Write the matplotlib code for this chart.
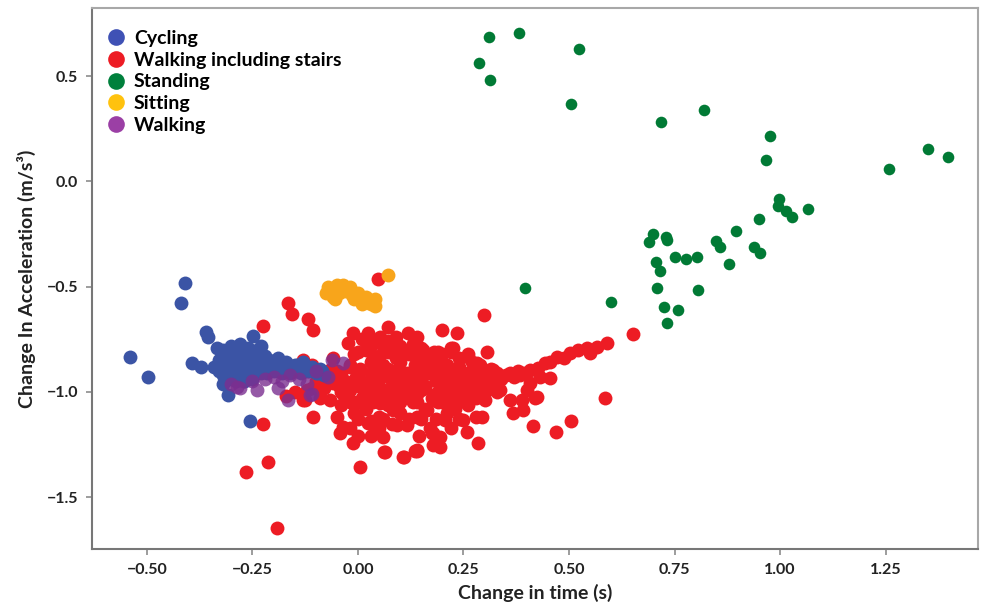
import matplotlib
matplotlib.use("Agg")
import matplotlib.pyplot as plt
from matplotlib.lines import Line2D

plt.rcParams['font.family'] = ['Lato', 'DejaVu Sans']
plt.rcParams['font.weight'] = 'bold'

categories = ["Cycling", "Walking including stairs", "Standing", "Sitting", "Walking"]

cycling_x = [-0.540, -0.498, -0.410, -0.419, -0.359, -0.355, -0.248, -0.335, -0.394, -0.373, -0.307, -0.256,
             -0.33, -0.33, -0.32, -0.31, -0.31, -0.30, -0.30, -0.29, -0.29, -0.28, -0.28, -0.27, -0.27,
             -0.26, -0.26, -0.25, -0.25, -0.24, -0.24, -0.23, -0.22, -0.22, -0.21, -0.20, -0.19, -0.18,
             -0.17, -0.16, -0.15, -0.14, -0.13, -0.12, -0.11, -0.10, -0.09, -0.08, -0.34, -0.32, -0.27, -0.23,
             -0.32, -0.315, -0.305, -0.295, -0.285, -0.28, -0.275, -0.265, -0.26, -0.255, -0.245, -0.235,
             -0.235, -0.225, -0.215, -0.205, -0.195, -0.185, -0.175, -0.165, -0.155, -0.145, -0.135,
             -0.125, -0.105, -0.095, -0.085,
             -0.31, -0.30, -0.29, -0.27, -0.265, -0.25, -0.245, -0.23, -0.21, -0.19, -0.17, -0.15,
             -0.13, -0.115, -0.32, -0.30, -0.28, -0.26,
             -0.29, -0.25, -0.27, -0.215, -0.18]
cycling_y = [-0.834, -0.929, -0.482, -0.577, -0.714, -0.740, -0.734, -0.792, -0.864, -0.883, -1.014, -1.136,
             -0.85, -0.90, -0.80, -0.87, -0.93, -0.78, -0.84, -0.90, -0.95, -0.77, -0.82, -0.87, -0.92,
             -0.79, -0.84, -0.89, -0.94, -0.80, -0.86, -0.91, -0.83, -0.88, -0.85, -0.90, -0.84, -0.88,
             -0.86, -0.91, -0.87, -0.89, -0.86, -0.90, -0.88, -0.91, -0.89, -0.92, -0.88, -0.96, -0.95, -0.78,
             -0.84, -0.89, -0.81, -0.86, -0.80, -0.90, -0.85, -0.89, -0.81, -0.86, -0.91, -0.83,
             -0.88, -0.86, -0.89, -0.86, -0.88, -0.86, -0.89, -0.87, -0.89, -0.87, -0.91,
             -0.88, -0.89, -0.91, -0.90,
             -0.82, -0.88, -0.83, -0.79, -0.84, -0.82, -0.87, -0.85, -0.87, -0.86, -0.88, -0.90,
             -0.88, -0.90, -0.92, -0.94, -0.93, -0.92,
             -0.92, -0.91, -0.95, -0.91, -0.91]

walk_stairs_x = [-0.165, -0.157, -0.118, -0.107, -0.224, 0.048, -0.106, 0.005, 0.064, 0.107, 0.135,
                 -0.224, -0.213, -0.265, -0.191, 0.062, 0.108, 0.139, 0.178, 0.194,
                 0.299, 0.198, 0.234, 0.226, 0.305, 0.285, 0.139, 0.175, 0.194, 0.178,
                 0.652, 0.586, 0.415, 0.469, 0.505, 0.589, 0.566, 0.542, 0.550, 0.522, 0.502, 0.487,
                 0.471, 0.455, 0.443, 0.427, 0.408, 0.392, 0.455, 0.431, 0.408, 0.400, 0.419, 0.388,
                 0.392, 0.423,
                 -0.011, 0.024, 0.072, 0.052, 0.119, -0.023, -0.050, -0.043, -0.011, -0.035, 0.040,
                 0.060, 0.092, 0.115, 0.024, -0.019, 0.052, 0.084, -0.126, -0.090, -0.066, -0.059,
                 0.155, 0.186, 0.261, 0.281, 0.321, 0.360, 0.384, 0.336, 0.360, 0.368, 0.293, 0.258,
                 0.250, 0.206, 0.218, 0.163, 0.139, 0.178, 0.265, 0.305,
                 -0.05, -0.03, -0.04, -0.02, 0.00, 0.01, 0.02, 0.00, 0.03, 0.04, 0.05, 0.06, 0.07,
                 0.08, 0.09, 0.10, 0.11, 0.12, 0.13, 0.14, 0.15, 0.16, 0.17, 0.18, 0.19, 0.20, 0.21,
                 0.22, 0.23, 0.24, 0.25, 0.26, 0.27, 0.28, 0.29, 0.30, 0.31, 0.32, 0.34, 0.35, 0.37,
                 0.38,
                 -0.06, -0.01, 0.02, 0.05, 0.08, 0.10, 0.12, 0.04, 0.09, 0.13, 0.16, 0.20, 0.24, 0.27,
                 0.01, 0.06,
                 -0.04, -0.01, 0.02, 0.05, 0.07, 0.10, 0.13, 0.16, 0.19, 0.23, 0.26, 0.30, 0.33, 0.03,
                 0.08, 0.12, 0.21, 0.28,
                 -0.10, -0.08, -0.12, -0.07, -0.09, -0.13, -0.17, -0.15, -0.13, -0.11, -0.13, -0.11,
                 -0.02, 0.06, 0.135, 0.21, 0.29,
                 -0.04, 0.03, 0.07, 0.115, 0.165, 0.245, 0.275, 0.33,
                 -0.01, 0.025, 0.095, 0.135, 0.185, 0.225, 0.30, 0.33,
                 -0.02, 0.035, 0.07, 0.105, 0.15, 0.205, 0.24, 0.29,
                 0.01, 0.045, 0.085, 0.12, 0.175, 0.215, 0.25, 0.28,
                 0.035, 0.09, 0.145, 0.18,
                 -0.02, 0.05, 0.17, 0.22, 0.00, 0.03, 0.145, 0.00, 0.06, 0.15, 0.185, 0.24,
                 -0.065, 0.005, 0.045, 0.095, 0.155, 0.195, 0.235, 0.315,
                 -0.055, -0.005, 0.055, 0.09, 0.14, 0.20, 0.26, 0.295,
                 -0.045, 0.005, 0.045, 0.11, 0.16, 0.21, 0.255, 0.315,
                 -0.035, 0.02, 0.055, 0.095, 0.14, 0.185, 0.225, 0.265,
                 -0.02, 0.035, 0.10, 0.14, 0.20, 0.24,
                 0.00, 0.07, 0.11, 0.15, 0.19, 0.22,
                 0.03, 0.07, 0.11, 0.15, 0.18, 0.22, 0.26, 0.14]
walk_stairs_y = [-0.579, -0.630, -0.655, -0.705, -0.686, -0.462, -1.117, -1.355, -1.284, -1.307, -1.279,
                 -1.152, -1.331, -1.379, -1.645, -1.287, -1.310, -1.279, -1.196, -1.260,
                 -0.634, -0.705, -0.721, -0.792, -0.808, -1.244, -1.276, -1.196, -1.212, -1.252,
                 -0.726, -1.029, -1.160, -1.191, -1.138, -0.769, -0.785, -0.792, -0.816, -0.800, -0.816, -0.840,
                 -0.832, -0.856, -0.864, -0.887, -0.896, -0.911, -0.935, -0.927, -0.959, -0.990, -1.030, -1.038,
                 -1.086, -1.022,
                 -0.721, -0.721, -0.690, -0.737, -0.721, -0.769, -1.117, -1.196, -1.244, -1.165, -1.181,
                 -1.212, -1.157, -1.157, -1.149, -1.038, -1.054, -1.086, -1.038, -0.990, -1.038, -0.959,
                 -0.800, -0.848, -0.832, -0.864, -0.896, -0.911, -0.919, -0.990, -1.038, -1.101, -1.117, -1.188,
                 -1.133, -1.133, -1.070, -1.086, -1.117, -1.038, -1.022, -0.990,
                 -0.90, -0.95, -1.00, -0.88, -0.92, -0.98, -1.02, -1.05, -0.86, -0.93, -0.97, -1.01, -0.89,
                 -0.95, -0.99, -0.86, -0.93, -1.00, -0.96, -0.90, -0.94, -0.98, -0.87, -0.92, -1.00, -0.95, -0.90,
                 -0.97, -0.93, -0.88, -0.96, -0.91, -0.99, -0.94, -0.90, -0.97, -0.93, -0.92, -0.94, -0.92, -0.93,
                 -0.90,
                 -0.84, -0.82, -0.80, -0.83, -0.80, -0.78, -0.82, -0.76, -0.74, -0.77, -0.83, -0.82, -0.84, -0.86,
                 -0.75, -0.78,
                 -1.06, -1.10, -1.08, -1.12, -1.06, -1.10, -1.05, -1.08, -1.05, -1.08, -1.06, -1.04, -1.00, -1.14,
                 -1.15, -1.13, -1.10, -1.12,
                 -0.95, -0.98, -0.99, -0.92, -1.03, -1.04, -1.02, -1.00, -1.02, -0.98, -0.85, -0.87,
                 -0.87, -0.87, -0.87, -0.87, -0.87,
                 -0.91, -0.91, -0.91, -0.91, -0.91, -0.91, -0.91, -0.91,
                 -0.95, -0.95, -0.95, -0.95, -0.95, -0.95, -0.95, -0.95,
                 -0.99, -0.99, -0.99, -0.99, -0.99, -0.99, -0.99, -0.99,
                 -1.03, -1.03, -1.03, -1.03, -1.03, -1.03, -1.03, -1.03,
                 -0.84, -0.84, -0.84, -0.84,
                 -1.17, -1.17, -1.17, -1.17, -1.21, -1.21, -1.21, -1.13, -1.13, -1.13, -1.13, -1.13,
                 -0.89, -0.89, -0.89, -0.89, -0.89, -0.89, -0.89, -0.89,
                 -0.93, -0.93, -0.93, -0.93, -0.93, -0.93, -0.93, -0.93,
                 -0.97, -0.97, -0.97, -0.97, -0.97, -0.97, -0.97, -0.97,
                 -1.01, -1.01, -1.01, -1.01, -1.01, -1.01, -1.01, -1.01,
                 -1.05, -1.05, -1.05, -1.05, -1.05, -1.05,
                 -0.81, -0.81, -0.81, -0.81, -0.81, -0.81,
                 -0.78, -0.76, -0.80, -0.79, -0.81, -0.79, -0.82, -0.74]

standing_x = [0.311, 0.382, 0.524, 0.287, 0.312, 0.505, 0.719, 0.820, 0.976, 0.966, 1.259, 1.350, 1.397,
              0.998, 0.994, 1.014, 1.028, 1.067, 0.949, 0.896, 0.849, 0.858, 0.938, 0.952, 0.878,
              0.700, 0.690, 0.730, 0.731, 0.705, 0.716, 0.750, 0.777, 0.803, 0.709, 0.806, 0.724,
              0.759, 0.732, 0.396, 0.600]
standing_y = [0.685, 0.707, 0.631, 0.563, 0.482, 0.368, 0.281, 0.338, 0.216, 0.102, 0.061, 0.154, 0.118,
              -0.085, -0.116, -0.140, -0.170, -0.129, -0.178, -0.237, -0.281, -0.310, -0.313, -0.341, -0.392,
              -0.249, -0.289, -0.262, -0.278, -0.381, -0.424, -0.360, -0.370, -0.357, -0.505, -0.517, -0.595,
              -0.610, -0.674, -0.505, -0.571]

sitting_x = [-0.075, -0.07, -0.06, -0.05, -0.045, -0.035, -0.03, -0.02, -0.015, -0.01, 0.0, 0.005, 0.015,
             0.02, 0.03, 0.04, 0.04, 0.01, -0.055, -0.065, 0.072]
sitting_y = [-0.53, -0.50, -0.55, -0.49, -0.53, -0.49, -0.52, -0.50, -0.54, -0.56, -0.53, -0.55, -0.57,
             -0.55, -0.58, -0.56, -0.59, -0.58, -0.56, -0.52, -0.443]

walking_x = [-0.30, -0.28, -0.25, -0.22, -0.20, -0.18, -0.16, -0.14, -0.12, -0.165, -0.11, -0.062, -0.036,
             -0.10, -0.07, -0.24, -0.19, -0.287, -0.114]
walking_y = [-0.96, -0.98, -0.95, -0.94, -0.93, -0.95, -0.92, -0.94, -0.96, -1.04, -1.01, -0.848, -0.864,
             -0.90, -0.93, -0.99, -0.98, -0.975, -1.014]

x_ticks = [-0.50, -0.25, 0.00, 0.25, 0.50, 0.75, 1.00, 1.25]
y_ticks = [0.5, 0.0, -0.5, -1.0, -1.5]

c_blue = "#3b54a5"
c_red = "#ed1c24"
c_green = "#017a35"
c_orange = "#f8a51b"
c_purple = "#7b2f90"

fig = plt.figure(figsize=(9.81, 6.13), dpi=100)
ax = fig.add_axes([0.0938, 0.1044, 0.9032, 0.8826])

s_main = 100
ax.scatter(walk_stairs_x, walk_stairs_y, s=s_main, c=c_red, linewidths=0, zorder=2)
ax.scatter(standing_x, standing_y, s=70, c=c_green, linewidths=0, zorder=2)
ax.scatter(sitting_x, sitting_y, s=s_main, c=c_orange, linewidths=0, zorder=2)
ax.scatter(cycling_x, cycling_y, s=s_main, c=c_blue, linewidths=0, zorder=3)
ax.scatter(walking_x, walking_y, s=s_main, c=c_purple, alpha=0.8, linewidths=0, zorder=4)

ax.set_xlim(-0.63, 1.469)
ax.set_ylim(-1.746, 0.824)
ax.set_xticks(x_ticks)
ax.set_xticklabels([f"{v:.2f}".replace("-", "\u2212") for v in x_ticks])
ax.set_yticks(y_ticks)
ax.set_yticklabels([f"{v:.1f}".replace("-", "\u2212") for v in y_ticks])

for name, sp in ax.spines.items():
    sp.set_linewidth(1.5)
    sp.set_color("#777777" if name in ("left", "bottom") else "#a8a8a8")
ax.tick_params(axis='both', colors="#8c8c8c", length=4, width=1.2, labelsize=11.5,
               labelcolor="#222222", pad=6)
for lab in ax.get_xticklabels() + ax.get_yticklabels():
    lab.set_fontweight('bold')

ax.set_xlabel("Change in time (s)", fontsize=14, fontweight='bold', color="#222222", labelpad=5)
ax.set_ylabel("Change In Acceleration (m/s\u00b3)", fontsize=14, fontweight='bold', color="#222222", labelpad=8)

leg_colors = ["#3f51b5", "#ed1c24", "#00803c", "#ffc20e", "#9b3fa5"]
handles = [Line2D([0], [0], marker='o', linestyle='none', markersize=12, markerfacecolor=c,
                  markeredgewidth=0) for c in leg_colors]
ax.legend(handles, categories, loc='upper left', bbox_to_anchor=(0.0, 0.985), frameon=False,
          prop={'weight': 'bold', 'size': 14}, handletextpad=0.35, labelspacing=0.25,
          borderaxespad=0.3, handlelength=1.1)

fig.savefig("out.png", dpi=100)
